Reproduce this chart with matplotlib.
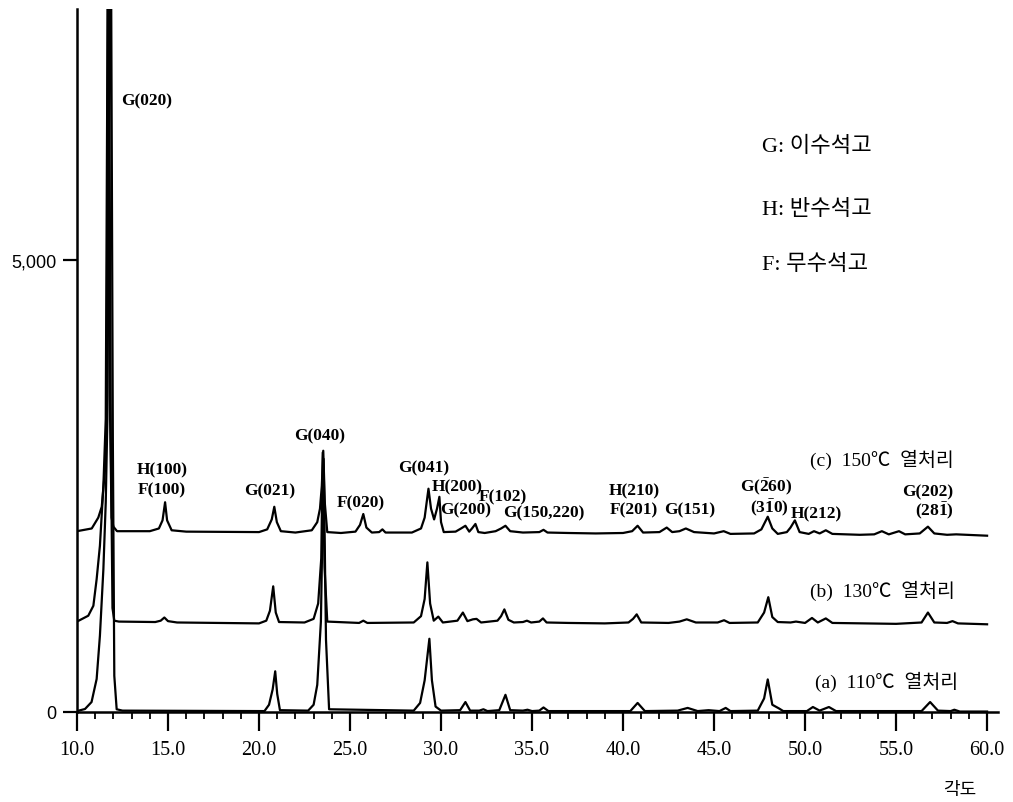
import matplotlib
matplotlib.use("Agg")
import matplotlib.pyplot as plt
from matplotlib.ticker import MultipleLocator, FixedLocator

# XRD patterns, 2-theta (deg) vs intensity (counts), vertices.
# The G(020) tops run off the chart; 9500 only stands in for "off scale".

# (a) 110 C
a_x = [10.0, 10.44, 10.8, 11.08, 11.26, 11.45, 11.58, 11.67, 11.85, 11.97, 12.05, 12.18, 12.5,
       20.3, 20.55, 20.75, 20.89, 21.0, 21.15, 22.7, 23.0, 23.2, 23.4, 23.55, 23.68, 23.85,
       28.5, 28.85, 29.1, 29.36, 29.5, 29.7, 30.0, 31.05, 31.34, 31.6, 32.1, 32.33, 32.55,
       33.2, 33.54, 33.8, 34.5, 34.75, 35.0, 35.4, 35.63, 35.9, 40.4, 40.8, 41.2,
       43.0, 43.55, 44.1, 44.7, 45.3, 45.64, 45.9, 47.4, 47.75, 47.95, 48.2, 48.56, 48.8,
       50.1, 50.43, 50.8, 51.31, 51.7, 56.4, 56.87, 57.3, 58.0, 58.2, 58.5, 60.0]
a_y = [10, 33, 110, 365, 845, 1580, 2320, 3240, 9500, 3000, 400, 30, 15,
       10, 80, 250, 450, 200, 20, 15, 80, 300, 1000, 2800, 800, 30,
       15, 100, 350, 810, 350, 60, 15, 20, 110, 15, 15, 30, 10,
       20, 190, 20, 15, 25, 10, 15, 50, 10, 10, 100, 10,
       15, 45, 10, 20, 10, 45, 10, 15, 150, 360, 80, 40, 10,
       10, 55, 15, 55, 10, 10, 110, 15, 10, 25, 5, 5]

# (b) 130 C
b_x = [10.0, 10.62, 10.9, 11.08, 11.26, 11.45, 11.58, 11.72, 11.86, 11.95, 12.05, 12.3,
       14.3, 14.6, 14.8, 15.0, 15.5, 20.0, 20.4, 20.6, 20.78, 20.92, 21.1,
       22.5, 23.0, 23.25, 23.42, 23.5, 23.6, 23.75, 25.5, 25.73, 25.95,
       28.5, 28.9, 29.1, 29.25, 29.4, 29.6, 29.85, 30.1, 30.9, 31.2, 31.45, 31.75, 31.95, 32.2,
       33.1, 33.3, 33.48, 33.7, 34.0, 34.5, 34.72, 34.95, 35.4, 35.6, 35.8, 37.0, 39.0,
       40.3, 40.55, 40.75, 41.0, 42.5, 43.1, 43.5, 44.0, 45.2, 45.55, 45.85,
       47.4, 47.75, 47.98, 48.2, 48.5, 49.2, 49.5, 50.0, 50.38, 50.7, 51.14, 51.5,
       55.0, 56.4, 56.75, 57.1, 57.8, 58.1, 58.4, 60.0]
b_y = [1000, 1065, 1175, 1470, 1840, 2500, 3240, 9500, 3000, 1150, 1010, 1000,
       995, 1010, 1045, 1005, 990, 980, 1010, 1120, 1390, 1100, 995,
       990, 1030, 1200, 1700, 2870, 1600, 1000, 985, 1010, 985,
       990, 1060, 1250, 1655, 1200, 1010, 1055, 990, 1010, 1100, 1005, 1025, 1030, 990,
       1010, 1060, 1135, 1020, 990, 995, 1010, 990, 1000, 1035, 990, 985, 980,
       990, 1030, 1080, 990, 985, 1000, 1025, 990, 990, 1015, 985,
       990, 1100, 1270, 1050, 995, 990, 1000, 985, 1040, 990, 1035, 985,
       975, 990, 1100, 990, 985, 1005, 980, 970]

# (c) 150 C
c_x = [10.0, 10.81, 11.17, 11.36, 11.54, 11.63, 11.72, 11.8, 11.9, 12.0, 12.2,
       14.0, 14.5, 14.7, 14.84, 14.95, 15.2, 16.0, 20.0, 20.45, 20.7, 20.84, 20.98, 21.2,
       22.0, 22.9, 23.2, 23.35, 23.45, 23.53, 23.62, 23.75, 24.5, 25.3, 25.55, 25.73, 25.9,
       26.2, 26.6, 26.78, 26.95, 28.4, 28.9, 29.1, 29.31, 29.45, 29.62, 29.78, 29.91, 30.0,
       30.15, 30.8, 31.1, 31.34, 31.55, 31.7, 31.89, 32.05, 32.4, 33.0, 33.3, 33.54, 33.8,
       34.5, 35.4, 35.63, 35.85, 37.0, 38.5, 40.0, 40.5, 40.8, 41.1, 42.0, 42.4, 42.7,
       43.1, 43.45, 43.9, 45.0, 45.53, 45.9, 47.2, 47.6, 47.95, 48.2, 48.5, 49.0, 49.2,
       49.44, 49.7, 50.2, 50.49, 50.8, 51.14, 51.5, 53.0, 53.8, 54.22, 54.6, 55.16, 55.5,
       56.3, 56.75, 57.1, 57.8, 58.3, 60.0]
c_y = [2000, 2030, 2150, 2270, 2680, 3240, 9500, 3500, 2150, 2050, 2000,
       2000, 2030, 2120, 2320, 2120, 2010, 1995, 1990, 2020, 2130, 2270, 2100, 2000,
       1985, 2010, 2100, 2250, 2500, 2890, 2300, 1990, 1980, 1995, 2070, 2190, 2040,
       1985, 1990, 2020, 1985, 1985, 2030, 2150, 2470, 2250, 2130, 2250, 2380, 2100,
       1990, 1995, 2030, 2060, 1995, 2030, 2080, 1990, 1980, 2000, 2030, 2060, 2000,
       1985, 1990, 2015, 1985, 1980, 1975, 1980, 2000, 2060, 1985, 1990, 2040, 1990,
       2000, 2030, 1990, 1975, 2000, 1970, 1975, 2020, 2160, 2030, 1970, 1990, 2040,
       2120, 1990, 1970, 2000, 1975, 2010, 1970, 1960, 1965, 2000, 1965, 2000, 1965,
       1975, 2050, 1975, 1960, 1965, 1950]

# peak assignments (text, 2-theta, counts where the label sits)
peak_text = ["G(020)", "H(100)", "F(100)", "G(021)", "G(040)", "F(020)", "G(041)",
             "H(200)", "G(200)", "F(102)", "G(150,220)", "H(210)", "F(201)", "G(151)",
             r"G($\bar{2}$60)", r"(3$\bar{1}$0)", "H(212)", "G(202)", r"(28$\bar{1}$)"]
peak_tx = [13.85, 14.67, 14.67, 20.60, 23.35, 25.60, 29.07,
           30.88, 31.37, 33.40, 35.65, 40.60, 40.60, 43.68,
           47.86, 48.02, 50.60, 56.76, 57.09]
peak_ty = [6769, 2688, 2466, 2455, 3064, 2323, 2710,
           2500, 2245, 2390, 2210, 2455, 2245, 2245,
           2500, 2267, 2201, 2444, 2234]

series_text = ["(c)  150℃  열처리", "(b)  130℃  열처리", "(a)  110℃  열처리"]
series_tx = [50.27, 50.27, 50.55]
series_ty = [2798, 1349, 343]

legend_text = ["G: 이수석고", "H: 반수석고", "F: 무수석고"]
legend_tx = [47.64, 47.64, 47.64]
legend_ty = [6260, 5563, 4955]

x_major = [10, 15, 20, 25, 30, 35, 40, 45, 50, 55, 60]
y_ticks = [0, 5000]
y_ticklabels = ["0", "5,000"]

plt.rcParams['font.family'] = ['Liberation Serif', 'Noto Sans CJK KR', 'DejaVu Sans']
plt.rcParams['mathtext.fontset'] = 'custom'
plt.rcParams['mathtext.rm'] = 'Liberation Serif:bold'
plt.rcParams['mathtext.it'] = 'Liberation Serif:bold'
plt.rcParams['mathtext.bf'] = 'Liberation Serif:bold'

fig = plt.figure(figsize=(10.13, 8.03), dpi=100)
ax = fig.add_axes([0.076, 0.1121, 0.9092, 0.8754])

for xs, ys in [(a_x, a_y), (b_x, b_y), (c_x, c_y)]:
    ax.plot(xs, ys, color='black', lw=1.6, solid_joinstyle='round')

ax.set_xlim(10, 60.6)
ax.set_ylim(0, 7776)

for s in ['top', 'right']:
    ax.spines[s].set_visible(False)
for s in ['left', 'bottom']:
    ax.spines[s].set_linewidth(1.8)

ax.xaxis.set_major_locator(FixedLocator(x_major))
ax.set_xticklabels([f"{v:.1f}" for v in x_major], fontsize=14.5)
ax.xaxis.set_minor_locator(MultipleLocator(1))
ax.tick_params(axis='x', which='major', length=14, width=1.6, direction='out', pad=6)
ax.tick_params(axis='x', which='minor', length=5, width=1.3, direction='out')

ax.set_yticks(y_ticks)
ax.set_yticklabels(y_ticklabels, fontsize=13, family='Liberation Sans')
ax.tick_params(axis='y', length=10, width=1.6, direction='out', pad=5)

for t, x, y in zip(peak_text, peak_tx, peak_ty):
    ax.text(x, y, t, ha='center', va='center', fontsize=12.5, fontweight='bold')

for t, x, y in zip(series_text, series_tx, series_ty):
    ax.text(x, y, t, ha='left', va='center', fontsize=14)

for t, x, y in zip(legend_text, legend_tx, legend_ty):
    ax.text(x, y, t, ha='left', va='center', fontsize=16)

fig.text(0.9477, 0.0162, "각도", ha='center', va='center', fontsize=13,
         family=['Noto Sans CJK KR'])

fig.savefig("out.png", dpi=100)
